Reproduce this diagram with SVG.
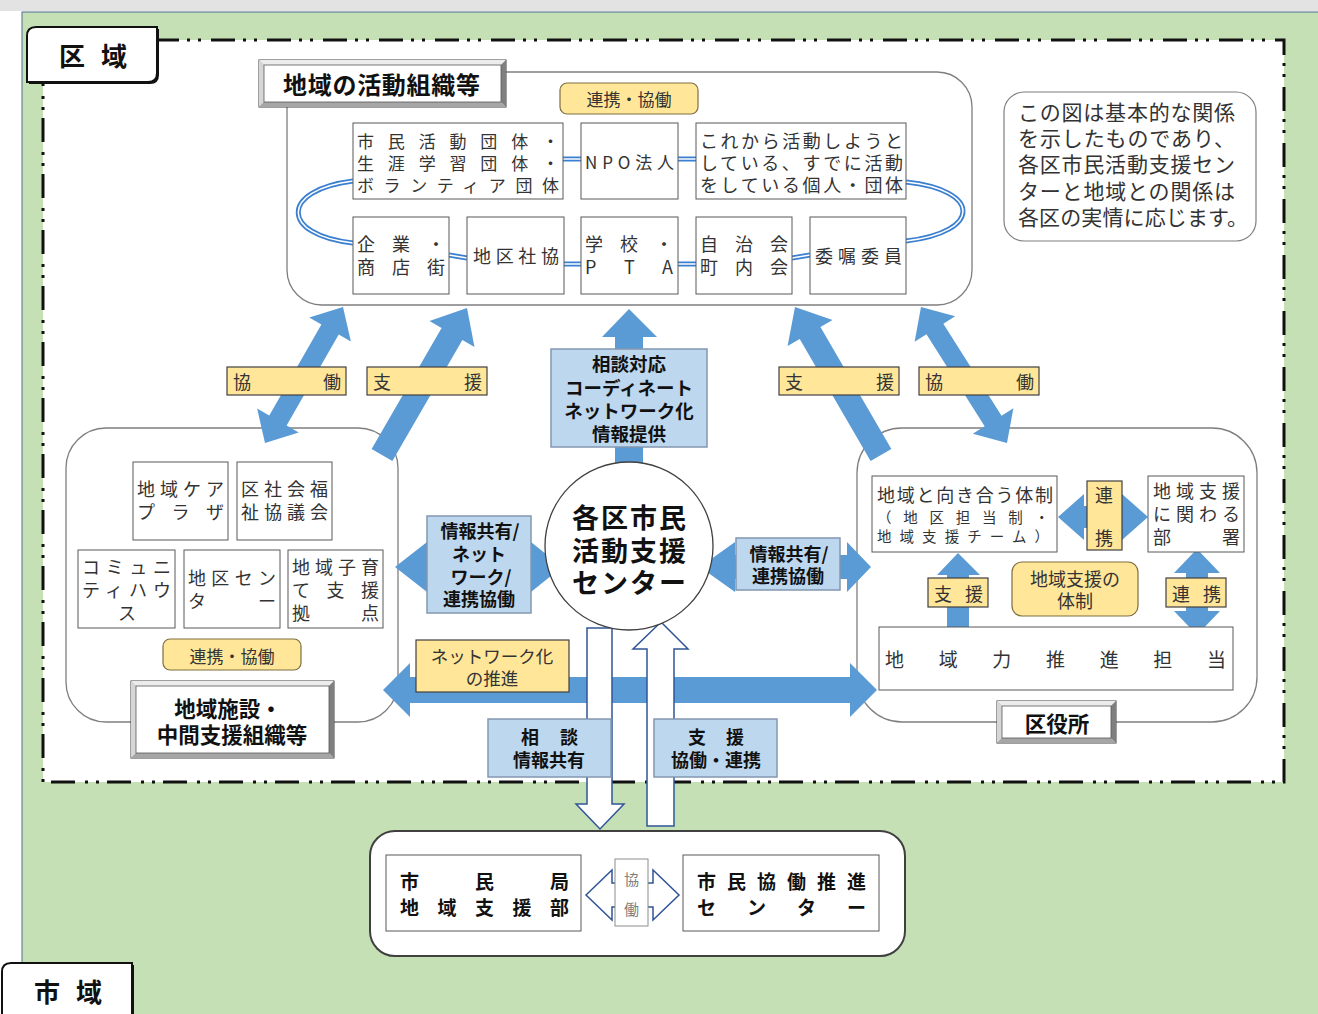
<svg xmlns="http://www.w3.org/2000/svg" width="1318" height="1014" viewBox="0 0 1318 1014" font-size="18">
<style>
.t{font-family:"Noto Sans CJK JP","Noto Sans",sans-serif;fill:#333;dominant-baseline:central}
.c{text-anchor:middle}
.b{font-weight:700;fill:#111}
.g{fill:#808080}
.box{fill:#fff;stroke:#595959;stroke-width:1}
.cont{fill:#fff;stroke:#7f7f7f;stroke-width:1.3}
.yl{fill:#ffe699;stroke:#404040;stroke-width:1.2}
.yp{fill:#ffe699;stroke:#7f6f3f;stroke-width:1.2}
.lb{fill:#bdd7ee;stroke:#8497b0;stroke-width:1.5}
.ar{fill:#5b9bd5}
.wa{fill:#fff;stroke:#2f5597;stroke-width:1.5}
.dl1{fill:none;stroke:#3a7fd0;stroke-width:5}
.dl2{fill:none;stroke:#fff;stroke-width:1.5}
.bvo{fill:#bfbfbf;stroke:#404040;stroke-width:1}
.bvt{fill:#ececec}
.bvl{fill:#d6d6d6}
.bvr{fill:#7f7f7f}
.bvb{fill:#a6a6a6}
.bvi{fill:#fff;stroke:#595959;stroke-width:0.8}
</style>

<!-- background -->
<rect width="1318" height="1014" fill="#fff"/>
<rect x="0" y="0" width="1318" height="11" fill="#e3e3e3"/>
<rect x="22" y="12" width="1300" height="1010" fill="#c5e0b4" stroke="#4f6f8f" stroke-width="1"/>
<rect x="43" y="40" width="1241" height="742" fill="#fff" stroke="#111" stroke-width="3" stroke-dasharray="24 8 3 8 3 10"/>

<!-- area labels -->
<g id="label-kuiki">
  <path d="M38 29 H159 V75 Q159 84 150 84 H29 V38 Q29 29 38 29 Z" fill="#111"/>
  <path d="M36 27 H157 V73 Q157 82 148 82 H27 V36 Q27 27 36 27 Z" fill="#fff" stroke="#111" stroke-width="2"/>
  <text class="t b" x="59" y="54" font-size="26" textLength="68">区域</text>
</g>
<g id="label-shiiki">
  <path d="M13 965 H134 V1020 H4 V974 Q4 965 13 965 Z" fill="#111"/>
  <path d="M11 963 H132 V1020 H2 V972 Q2 963 11 963 Z" fill="#fff" stroke="#111" stroke-width="2"/>
  <text class="t b" x="34" y="990" font-size="26" textLength="68">市域</text>
</g>

<!-- containers -->
<g id="container-top"><rect class="cont" x="287" y="72" width="685" height="233" rx="35"/></g>
<g id="container-left"><rect class="cont" x="66" y="428" width="332" height="294" rx="40"/></g>
<g id="container-right"><rect class="cont" x="857" y="428" width="400" height="294" rx="45"/></g>
<g id="container-city">
  <rect x="370" y="831" width="535" height="125" rx="25" fill="#fff" stroke="#404040" stroke-width="2"/>
</g>

<!-- connectors -->
<g id="connectors">
  <path class="dl1" d="M353 181 C280 190 280 235 353 243"/>
  <path class="dl2" d="M353 181 C280 190 280 235 353 243"/>
  <path class="dl1" d="M906 182 C982 190 982 232 906 241"/>
  <path class="dl2" d="M906 182 C982 190 982 232 906 241"/>
  <path class="dl1" d="M563 159 H581 M678 159 H696 M449 255 L467 258 M564 264 H581 M678 264 H696 M792 258 L810 255"/>
  <path class="dl2" d="M563 159 H581 M678 159 H696 M449 255 L467 258 M564 264 H581 M678 264 H696 M792 258 L810 255"/>

  <polygon class="ar" points="343,307 350.88,341.49 338.73,334.53 286.61,425.43 298.76,432.39 265,443 257.12,408.51 269.27,415.47 321.39,324.57 309.24,317.61"/>
  <polygon class="ar" points="467,308 474.49,346.99 462.37,339.98 392.39,461.01 371.61,448.99 441.59,327.96 429.47,320.95"/>
  <polygon class="ar" points="795,307 832.55,319.88 820.44,326.91 891.37,448.97 870.63,461.03 799.7,338.97 787.59,346"/>
  <polygon class="ar" points="921,307 955.18,316.15 943.35,323.63 1001.55,415.67 1013.38,408.19 1007,443 972.82,433.85 984.65,426.37 926.45,334.33 914.62,341.81"/>

  <polygon class="ar" points="629,309 657,337 643,337 643,470 615,470 615,337 602,337"/>
  <polygon class="ar" points="395,567 427,542 427,555 531,555 531,542 562,567 531,592 531,579 427,579 427,592"/>
  <polygon class="ar" points="700,567 735,542 735,555 847,555 847,542 871,567 847,592 847,579 735,579 735,592"/>
  <polygon class="ar" points="383,690 410,663 410,677 850,677 850,663 877,690 850,717 850,703 410,703 410,717"/>

  <polygon class="ar" points="1058,517 1084,494 1084,506 1122,506 1122,494 1148,517 1122,540 1122,528 1084,528 1084,540"/>
  <polygon class="ar" points="958,553 980,575 969,575 969,628 947,628 947,575 937,575"/>
  <polygon class="ar" points="1197,549 1220,573 1208,573 1208,611 1220,611 1197,635 1174,611 1186,611 1186,573 1174,573"/>

  <polygon class="wa" points="587,628 612,628 612,804 624,804 600,829 576,804 587,804"/>
  <polygon class="wa" points="661,622 688,649 674,649 674,826 647,826 647,649 633,649"/>
  <polygon class="wa" points="586,895 612,870 612,883 653,883 653,870 679,895 653,920 653,907 612,907 612,920"/>
</g>

<!-- top area nodes -->
<g id="label-katsudo">
  <rect class="bvo" x="259" y="60" width="247" height="47"/>
  <polygon class="bvt" points="259,60 506,60 501,65 264,65"/>
  <polygon class="bvl" points="259,60 264,65 264,102 259,107"/>
  <polygon class="bvr" points="506,60 506,107 501,102 501,65"/>
  <polygon class="bvb" points="259,107 264,102 501,102 506,107"/>
  <rect class="bvi" x="264" y="65" width="237" height="37"/>
  <text class="t b" x="283" y="83" font-size="24" textLength="197">地域の活動組織等</text>
</g>
<g id="pill-top">
  <rect class="yp" x="560" y="83" width="138" height="31" rx="7"/>
  <text class="t c" x="629" y="98" font-size="17">連携・協働</text>
</g>
<g id="box-shimin">
  <rect class="box" x="353" y="123" width="210" height="76"/>
  <text class="t" x="357" y="140" font-size="17" textLength="202">市民活動団体・</text>
  <text class="t" x="357" y="162" font-size="17" textLength="202">生涯学習団体・</text>
  <text class="t" x="357" y="184" font-size="17" textLength="202">ボランティア団体</text>
</g>
<g id="box-npo">
  <rect class="box" x="581" y="123" width="97" height="76"/>
  <text class="t" x="585" y="161" font-size="17" textLength="89">NPO法人</text>
</g>
<g id="box-korekara">
  <rect class="box" x="696" y="123" width="210" height="76"/>
  <text class="t" x="700" y="140" textLength="203">これから活動しようと</text>
  <text class="t" x="700" y="162" textLength="203">している、すでに活動</text>
  <text class="t" x="700" y="184" textLength="203">をしている個人・団体</text>
</g>
<g id="box-kigyo">
  <rect class="box" x="353" y="217" width="96" height="77"/>
  <text class="t" x="357" y="243" textLength="88">企業・</text>
  <text class="t" x="357" y="266" textLength="88">商店街</text>
</g>
<g id="box-chikushakyo">
  <rect class="box" x="467" y="217" width="97" height="77"/>
  <text class="t" x="473" y="255" textLength="86">地区社協</text>
</g>
<g id="box-gakko">
  <rect class="box" x="581" y="217" width="97" height="77"/>
  <text class="t" x="585" y="243" textLength="88">学校・</text>
  <text class="t" x="585" y="266" textLength="88">PTA</text>
</g>
<g id="box-jichikai">
  <rect class="box" x="696" y="217" width="96" height="77"/>
  <text class="t" x="700" y="243" textLength="88">自治会</text>
  <text class="t" x="700" y="266" textLength="88">町内会</text>
</g>
<g id="box-ishoku">
  <rect class="box" x="810" y="217" width="96" height="77"/>
  <text class="t" x="815" y="255" textLength="87">委嘱委員</text>
</g>

<!-- note -->
<g id="note">
  <rect x="1004" y="92" width="252" height="149" rx="20" fill="#fff" stroke="#7f7f7f" stroke-width="1.2"/>
  <text class="t" x="1018" y="111" font-size="21" textLength="217">この図は基本的な関係</text>
  <text class="t" x="1018" y="137" font-size="21" textLength="217">を示したものであり、</text>
  <text class="t" x="1018" y="163" font-size="21" textLength="217">各区市民活動支援セン</text>
  <text class="t" x="1018" y="190" font-size="21" textLength="217">ターと地域との関係は</text>
  <text class="t" x="1018" y="216" font-size="21" textLength="230">各区の実情に応じます。</text>
</g>

<!-- yellow arrow labels -->
<g id="lbl-kyodo-left">
  <rect class="yl" x="227" y="367" width="119" height="28"/>
  <text class="t" x="233" y="381" textLength="108">協働</text>
</g>
<g id="lbl-shien-left">
  <rect class="yl" x="367" y="367" width="120" height="28"/>
  <text class="t" x="373" y="381" textLength="109">支援</text>
</g>
<g id="lbl-shien-right">
  <rect class="yl" x="779" y="367" width="120" height="28"/>
  <text class="t" x="785" y="381" textLength="109">支援</text>
</g>
<g id="lbl-kyodo-right">
  <rect class="yl" x="919" y="367" width="120" height="28"/>
  <text class="t" x="925" y="381" textLength="109">協働</text>
</g>

<!-- center -->
<g id="box-sodan-taio">
  <rect class="lb" x="551" y="349" width="156" height="98"/>
  <text class="t b c" x="629" y="363" font-size="18.5">相談対応</text>
  <text class="t b c" x="629" y="387" font-size="18.5">コーディネート</text>
  <text class="t b c" x="629" y="410" font-size="18.5">ネットワーク化</text>
  <text class="t b c" x="629" y="433" font-size="18.5">情報提供</text>
</g>
<g id="center-circle">
  <circle cx="629" cy="546" r="84" fill="#fff" stroke="#404040" stroke-width="1.3"/>
  <text class="t b" x="572" y="516" font-size="27" textLength="114">各区市民</text>
  <text class="t b" x="572" y="549" font-size="27" textLength="114">活動支援</text>
  <text class="t b" x="572" y="581" font-size="27" textLength="114">センター</text>
</g>
<g id="box-info-left">
  <rect class="lb" x="427" y="516" width="104" height="97"/>
  <text class="t b c" x="480" y="530">情報共有/</text>
  <text class="t b c" x="479" y="553">ネット</text>
  <text class="t b c" x="481" y="576">ワーク/</text>
  <text class="t b c" x="479" y="598">連携協働</text>
</g>
<g id="box-info-right">
  <rect class="lb" x="736" y="538" width="104" height="52"/>
  <text class="t b c" x="789" y="553">情報共有/</text>
  <text class="t b c" x="788" y="575">連携協働</text>
</g>

<!-- left container nodes -->
<g id="box-careplaza">
  <rect class="box" x="133" y="462" width="95" height="78"/>
  <text class="t" x="137" y="488" textLength="87">地域ケア</text>
  <text class="t" x="137" y="511" textLength="87">プラザ</text>
</g>
<g id="box-kushakyo">
  <rect class="box" x="237" y="462" width="95" height="78"/>
  <text class="t" x="241" y="488" textLength="87">区社会福</text>
  <text class="t" x="241" y="511" textLength="87">祉協議会</text>
</g>
<g id="box-community">
  <rect class="box" x="78" y="550" width="97" height="78"/>
  <text class="t" x="82" y="566" textLength="89">コミュニ</text>
  <text class="t" x="82" y="589" textLength="89">ティハウ</text>
  <text class="t c" x="127" y="612">ス</text>
</g>
<g id="box-chikucenter">
  <rect class="box" x="184" y="550" width="96" height="78"/>
  <text class="t" x="188" y="577" textLength="88">地区セン</text>
  <text class="t" x="188" y="600" textLength="88">ター</text>
</g>
<g id="box-kosodate">
  <rect class="box" x="288" y="550" width="95" height="78"/>
  <text class="t" x="292" y="566" textLength="87">地域子育</text>
  <text class="t" x="292" y="589" textLength="87">て支援</text>
  <text class="t" x="292" y="612" textLength="87">拠点</text>
</g>
<g id="pill-left">
  <rect class="yp" x="163" y="639" width="138" height="31" rx="7"/>
  <text class="t c" x="232" y="655" font-size="17">連携・協働</text>
</g>
<g id="label-shisetsu">
  <rect class="bvo" x="131" y="681" width="203" height="77"/>
  <polygon class="bvt" points="131,681 334,681 329,686 136,686"/>
  <polygon class="bvl" points="131,681 136,686 136,753 131,758"/>
  <polygon class="bvr" points="334,681 334,758 329,753 329,686"/>
  <polygon class="bvb" points="131,758 136,753 329,753 334,758"/>
  <rect class="bvi" x="136" y="686" width="193" height="67"/>
  <text class="t b c" x="228" y="707" font-size="21.5">地域施設・</text>
  <text class="t b c" x="232" y="733" font-size="21.5">中間支援組織等</text>
</g>

<!-- right container nodes -->
<g id="box-mukiau">
  <rect class="box" x="872" y="476" width="185" height="76"/>
  <text class="t" x="877" y="494" textLength="176">地域と向き合う体制</text>
  <text class="t" x="877" y="516" font-size="14.5" textLength="172">（地区担当制・</text>
  <text class="t" x="877" y="535" font-size="14.5" textLength="172">地域支援チーム）</text>
</g>
<g id="lbl-renkei-v">
  <rect class="yl" x="1087" y="481" width="35" height="69"/>
  <text class="t c" x="1104" y="494">連</text>
  <text class="t c" x="1104" y="537">携</text>
</g>
<g id="box-busho">
  <rect class="box" x="1148" y="476" width="96" height="76"/>
  <text class="t" x="1153" y="490" textLength="87">地域支援</text>
  <text class="t" x="1153" y="513" textLength="87">に関わる</text>
  <text class="t" x="1153" y="536" textLength="87">部署</text>
</g>
<g id="lbl-shien-r">
  <rect class="yl" x="928" y="578" width="60" height="29"/>
  <text class="t" x="934" y="593" textLength="49">支援</text>
</g>
<g id="pill-taisei">
  <rect class="yp" x="1012" y="562" width="126" height="54" rx="10"/>
  <text class="t c" x="1075" y="578">地域支援の</text>
  <text class="t c" x="1075" y="600">体制</text>
</g>
<g id="lbl-renkei-r">
  <rect class="yl" x="1166" y="578" width="60" height="29"/>
  <text class="t" x="1172" y="593" textLength="49">連携</text>
</g>
<g id="box-chiikiryoku">
  <rect class="box" x="879" y="627" width="354" height="63"/>
  <text class="t" x="885" y="658" font-size="19" textLength="341">地域力推進担当</text>
</g>
<g id="label-kuyakusho">
  <rect class="bvo" x="997" y="701" width="119" height="42"/>
  <polygon class="bvt" points="997,701 1116,701 1111,706 1002,706"/>
  <polygon class="bvl" points="997,701 1002,706 1002,738 997,743"/>
  <polygon class="bvr" points="1116,701 1116,743 1111,738 1111,706"/>
  <polygon class="bvb" points="997,743 1002,738 1111,738 1116,743"/>
  <rect class="bvi" x="1002" y="706" width="109" height="32"/>
  <text class="t b c" x="1057" y="722" font-size="21.5">区役所</text>
</g>

<!-- bottom center labels -->
<g id="lbl-network">
  <rect class="yl" x="416" y="640" width="153" height="52"/>
  <text class="t c" x="492" y="655" font-size="17.5">ネットワーク化</text>
  <text class="t c" x="492" y="677" font-size="17.5">の推進</text>
</g>
<g id="box-sodan">
  <rect class="lb" x="488" y="719" width="123" height="58"/>
  <text class="t b" x="521" y="736" textLength="57">相談</text>
  <text class="t b c" x="549" y="759">情報共有</text>
</g>
<g id="box-shien-kyodo">
  <rect class="lb" x="654" y="719" width="123" height="58"/>
  <text class="t b" x="688" y="736" textLength="56">支援</text>
  <text class="t b c" x="716" y="759">協働・連携</text>
</g>

<!-- city level -->
<g id="box-shiminkyoku">
  <rect class="box" x="386" y="855" width="195" height="76"/>
  <text class="t b" x="400" y="880" font-size="19" textLength="169">市民局</text>
  <text class="t b" x="400" y="906" font-size="19" textLength="169">地域支援部</text>
</g>
<g id="lbl-kyodo-city">
  <rect x="615" y="859" width="33" height="67" fill="#fff" stroke="#8c8c8c" stroke-width="1"/>
  <text class="t c g" x="631.5" y="878" font-size="15">協</text>
  <text class="t c g" x="631.5" y="908" font-size="15">働</text>
</g>
<g id="box-kyodocenter">
  <rect class="box" x="683" y="855" width="196" height="76"/>
  <text class="t b" x="697" y="880" font-size="19" textLength="169">市民協働推進</text>
  <text class="t b" x="697" y="906" font-size="19" textLength="169">センター</text>
</g>
</svg>
